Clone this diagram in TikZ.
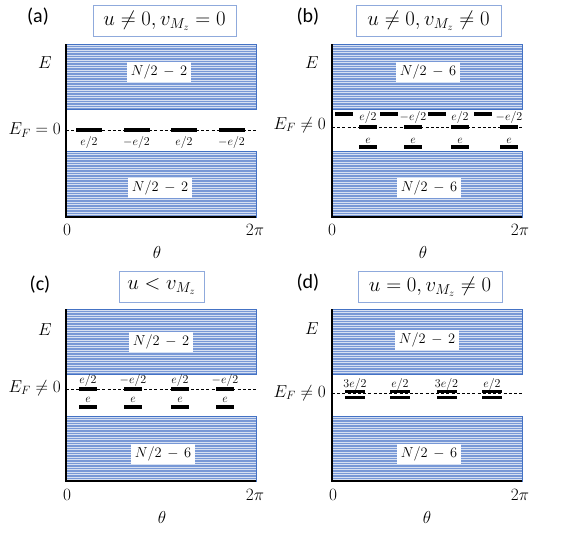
\documentclass[tikz,border=0pt]{standalone}
\usepackage{fontspec}
\newfontfamily\labfont{Carlito}
\definecolor{bandblue}{RGB}{120,152,214}
\definecolor{bandedge}{RGB}{68,114,196}
\definecolor{titleblue}{RGB}{143,170,220}
\newcommand\BandFill[4]{%
  \fill[bandblue] (#1,#2) rectangle (#3,#4);
  \begin{scope}
    \clip (#1,#2) rectangle (#3,#4);
    \foreach \k in {0,...,30}{\draw[stripe] (#1,#2+1.3+2.5*\k) -- (#3,#2+1.3+2.5*\k);}
  \end{scope}
  \draw[bandedge,line width=0.6pt] (#1,#2) rectangle (#3,#4);}
\begin{document}
\begin{tikzpicture}[x=1pt,y=-1pt,
  stripe/.style={white,opacity=0.7,line width=1pt},
  axisline/.style={line width=2pt,black},
  efline/.style={dashed,dash pattern=on 3pt off 2.2pt,line width=0.8pt},
  bar/.style={fill=black,inner sep=0pt,minimum height=4pt,minimum width=18pt},
  dbar/.style={fill=black,inner sep=0pt,minimum height=3.2pt,minimum width=20pt},
  panlab/.style={font=\labfont\fontsize{20}{22}\selectfont,inner sep=0pt},
  titlebox/.style={draw=titleblue,line width=0.9pt,fill=white,minimum height=31pt,inner sep=0pt,font=\fontsize{20}{22}\selectfont},
  countbox/.style={fill=white,inner sep=0pt,minimum width=64pt,minimum height=20pt,font=\fontsize{14}{16}\selectfont},
  axlab/.style={inner sep=0pt,font=\fontsize{18}{20}\selectfont},
  qlab/.style={inner sep=0pt,font=\fontsize{11.5}{12}\selectfont},
  qlabA/.style={inner sep=0pt,font=\fontsize{12.5}{13}\selectfont}]
\useasboundingbox (0,0) rectangle (565,536);

% ================= panel (a)
\node[panlab] (a-lab) at (38,17) {(a)};
\node[titlebox,minimum width=143pt] (a-title) at (164.5,21) {$u\neq 0, v_{M_z}=0$};
\BandFill{66}{44}{256}{109}
\BandFill{66}{151}{256}{217}
\node[countbox] (a-nu) at (159,72) {$N/2\,-\,2$};
\node[countbox] (a-nl) at (160,188) {$N/2\,-\,2$};
\coordinate (a-top) at (66,44); \coordinate (a-org) at (66,217); \coordinate (a-end) at (256,217);
\draw[axisline] (a-top) -- (a-org) -- (a-end);
\coordinate (a-ef0) at (66,130); \coordinate (a-ef1) at (257,130);
\draw[efline] (a-ef0) -- (a-ef1);
\foreach \i/\x/\t in {1/89/{e/2},2/136.5/{-e/2},3/184/{e/2},4/231.5/{-e/2}}{
  \node[bar,minimum width=26pt] (a-b\i) at (\x,130) {};
  \node[qlabA] (a-q\i) at (\x,142) {$\t$};}
\node[axlab] (a-E) at (45,63) {$E$};
\node[axlab,anchor=east] (a-EF) at (61,130) {$E_F=0$};
\node[axlab] (a-0) at (67,230) {$0$};
\node[axlab] (a-2pi) at (255,230) {$2\pi$};
\node[axlab] (a-th) at (157,252) {$\theta$};

% ================= panel (b)
\node[panlab] (b-lab) at (308,17) {(b)};
\node[titlebox,minimum width=145pt] (b-title) at (428.5,21) {$u\neq 0, v_{M_z}\neq 0$};
\BandFill{332}{44}{522}{109}
\BandFill{332}{151}{522}{217}
\node[countbox] (b-nu) at (428,72) {$N/2\,-\,6$};
\node[countbox] (b-nl) at (429,188) {$N/2\,-\,6$};
\coordinate (b-top) at (332,44); \coordinate (b-org) at (332,217); \coordinate (b-end) at (522,217);
\draw[axisline] (b-top) -- (b-org) -- (b-end);
\coordinate (b-ef0) at (332,127); \coordinate (b-ef1) at (522,127);
\draw[efline] (b-ef0) -- (b-ef1);
\foreach \i/\x in {1/344,2/389,3/436.5,4/483}{
  \node[bar] (b-u\i) at (\x,114) {};}
\foreach \i/\x/\t in {1/368/{e/2},2/413/{-e/2},3/460/{e/2},4/509/{-e/2}}{
  \node[bar] (b-m\i) at (\x,127) {};
  \node[qlab] (b-q\i) at (\x,117.5) {$\t$};
  \node[bar] (b-l\i) at (\x,147) {};
  \node[qlab] (b-e\i) at (\x,140.5) {$e$};}
\node[axlab] (b-E) at (312,63) {$E$};
\node[axlab,anchor=east] (b-EF) at (326,125) {$E_F\neq 0$};
\node[axlab] (b-0) at (332,230) {$0$};
\node[axlab] (b-2pi) at (520,230) {$2\pi$};
\node[axlab] (b-th) at (423,252) {$\theta$};

% ================= panel (c)
\node[panlab] (c-lab) at (40,285) {(c)};
\node[titlebox,minimum width=85pt] (c-title) at (161.5,286.5) {$u<v_{M_z}$};
\BandFill{66}{309}{256}{374}
\BandFill{66}{416}{256}{481}
\node[countbox] (c-nu) at (161,342) {$N/2\,-\,2$};
\node[countbox] (c-nl) at (163,454) {$N/2\,-\,6$};
\coordinate (c-top) at (66,309); \coordinate (c-org) at (66,481); \coordinate (c-end) at (256,481);
\draw[axisline] (c-top) -- (c-org) -- (c-end);
\coordinate (c-ef0) at (66,389); \coordinate (c-ef1) at (257,389);
\draw[efline] (c-ef0) -- (c-ef1);
\foreach \i/\x/\t in {1/88/{e/2},2/133/{-e/2},3/180/{e/2},4/225/{-e/2}}{
  \node[bar] (c-m\i) at (\x,389) {};
  \node[qlab] (c-q\i) at (\x,380.5) {$\t$};
  \node[bar] (c-l\i) at (\x,406.5) {};
  \node[qlab] (c-e\i) at (\x,400) {$e$};}
\node[axlab] (c-E) at (45,330) {$E$};
\node[axlab,anchor=east] (c-EF) at (61,388) {$E_F\neq 0$};
\node[axlab] (c-0) at (67,495) {$0$};
\node[axlab] (c-2pi) at (255,495) {$2\pi$};
\node[axlab] (c-th) at (162,517) {$\theta$};

% ================= panel (d)
\node[panlab] (d-lab) at (308,283) {(d)};
\node[titlebox,minimum width=144pt] (d-title) at (430,286.5) {$u=0, v_{M_z}\neq 0$};
\BandFill{332}{309}{522}{374}
\BandFill{332}{416}{522}{481}
\node[countbox] (d-nu) at (427,340) {$N/2\,-\,2$};
\node[countbox] (d-nl) at (429,454) {$N/2\,-\,6$};
\coordinate (d-top) at (332,309); \coordinate (d-org) at (332,481); \coordinate (d-end) at (522,481);
\draw[axisline] (d-top) -- (d-org) -- (d-end);
\coordinate (d-ef0) at (332,393); \coordinate (d-ef1) at (522,393);
\draw[efline] (d-ef0) -- (d-ef1);
\foreach \i/\x/\t in {1/355/{3e/2},2/400/{e/2},3/446.5/{3e/2},4/492/{e/2}}{
  \node[dbar] (d-a\i) at (\x,391.5) {};
  \node[dbar] (d-b\i) at (\x,397.5) {};
  \node[qlab] (d-q\i) at (\x,384) {$\t$};}
\node[axlab] (d-E) at (312,329) {$E$};
\node[axlab,anchor=east] (d-EF) at (326,393) {$E_F\neq 0$};
\node[axlab] (d-0) at (333,495) {$0$};
\node[axlab] (d-2pi) at (520,495) {$2\pi$};
\node[axlab] (d-th) at (427,517) {$\theta$};
\end{tikzpicture}
\end{document}
